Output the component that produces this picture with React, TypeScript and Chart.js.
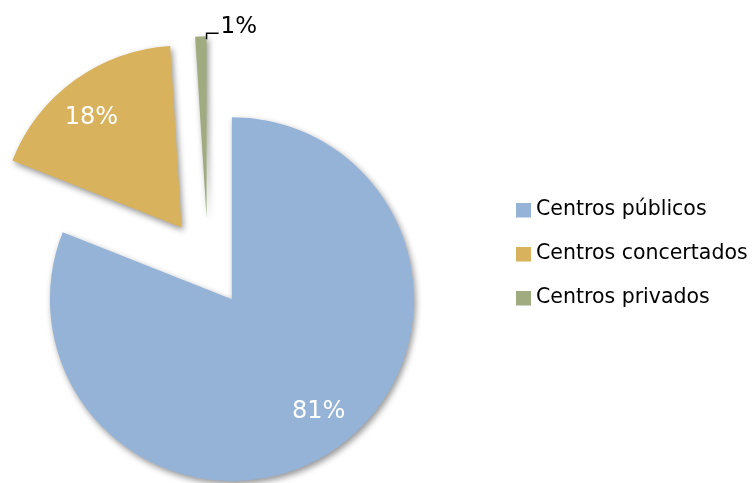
import React, { useEffect, useRef } from 'react';
import { Chart, registerables } from 'chart.js';

Chart.register(...registerables);

// ---- data ----
const categories = ['Centros públicos', 'Centros concertados', 'Centros privados'];
const values = [81, 18, 1];
const valueLabels = ['81%', '18%', '1%'];

// ---- style ----
const colors = ['#95B3D7', '#D8B25C', '#A0AB7F'];
const explodeDist = [42.5, 45, 45.6]; // pixel distance each slice is pulled out
const FONT = '"DejaVu Sans", sans-serif';
const PIE_RADIUS = 182;

const total = values.reduce((a, b) => a + b, 0);

// Pull each slice out along its mid angle (Excel-style exploded pie)
const explodePlugin = {
  id: 'explode',
  afterDatasetUpdate(chart: any, args: any) {
    const meta = chart.getDatasetMeta(args.index);
    meta.data.forEach((arc: any, i: number) => {
      const mid = (arc.startAngle + arc.endAngle) / 2;
      arc.x = arc.x + Math.cos(mid) * explodeDist[i];
      arc.y = arc.y + Math.sin(mid) * explodeDist[i];
    });
  },
};

const shadowPlugin = {
  id: 'sliceShadow',
  beforeDatasetsDraw(chart: any) {
    const ctx = chart.ctx;
    ctx.save();
    ctx.shadowColor = 'rgba(0,0,0,0.42)';
    ctx.shadowBlur = 6;
    ctx.shadowOffsetX = 2;
    ctx.shadowOffsetY = 3;
  },
  afterDatasetsDraw(chart: any) {
    chart.ctx.restore();
  },
};

const labelPlugin = {
  id: 'sliceLabels',
  afterDraw(chart: any) {
    const ctx = chart.ctx;
    const meta = chart.getDatasetMeta(0);
    meta.data.forEach((arc: any, i: number) => {
      const { x, y, startAngle, endAngle, outerRadius } = arc;
      const mid = (startAngle + endAngle) / 2;
      ctx.save();
      if (values[i] / total > 0.05) {
        const a = mid - 0.06;
        const r = outerRadius * 0.78;
        ctx.fillStyle = '#ffffff';
        ctx.font = `24px ${FONT}`;
        ctx.textAlign = 'center';
        ctx.textBaseline = 'middle';
        ctx.fillText(valueLabels[i], x + Math.cos(a) * r, y + Math.sin(a) * r);
      } else {
        // small slice: leader line from outer edge, label outside
        const sx = x + Math.cos(endAngle) * outerRadius * 0.985;
        const sy = y + Math.sin(endAngle) * outerRadius * 0.985;
        ctx.strokeStyle = '#000000';
        ctx.lineWidth = 1.5;
        ctx.beginPath();
        ctx.moveTo(sx, sy);
        ctx.lineTo(sx, sy - 6);
        ctx.lineTo(sx + 12, sy - 6);
        ctx.stroke();
        ctx.fillStyle = '#000000';
        ctx.font = `23px ${FONT}`;
        ctx.textAlign = 'left';
        ctx.textBaseline = 'middle';
        ctx.fillText(valueLabels[i], sx + 14, sy - 12);
      }
      ctx.restore();
    });
  },
};

const legendPlugin = {
  id: 'sideLegend',
  afterDraw(chart: any) {
    const ctx = chart.ctx;
    const left = 516;
    const top = 203;
    const step = 44;
    ctx.save();
    categories.forEach((c, i) => {
      const y = top + i * step;
      ctx.fillStyle = colors[i];
      ctx.fillRect(left, y, 15, 14.5);
      ctx.fillStyle = '#000000';
      ctx.font = `20.5px ${FONT}`;
      ctx.textAlign = 'left';
      ctx.textBaseline = 'middle';
      ctx.fillText(c, left + 20, y + 7);
    });
    ctx.restore();
  },
};

export default function App() {
  const ref = useRef<HTMLCanvasElement | null>(null);

  useEffect(() => {
    if (!ref.current) return;
    const chart = new Chart(ref.current, {
      type: 'pie',
      data: {
        labels: categories,
        datasets: [
          {
            data: values,
            backgroundColor: colors,
            borderWidth: 0,
            radius: PIE_RADIUS,
            clip: false,
          } as any,
        ],
      },
      options: {
        responsive: false,
        animation: false,
        events: [],
        layout: { padding: { left: 0, right: 336, top: 45, bottom: 0 } },
        plugins: {
          legend: { display: false },
          tooltip: { enabled: false },
        },
      },
      plugins: [explodePlugin, shadowPlugin, labelPlugin, legendPlugin],
    });
    return () => chart.destroy();
  }, []);

  return (
    <div style={{ position: 'absolute', left: 0, top: 0, width: 752, height: 483, background: '#fff' }}>
      <canvas ref={ref} width={752} height={483} style={{ display: 'block' }} />
    </div>
  );
}
